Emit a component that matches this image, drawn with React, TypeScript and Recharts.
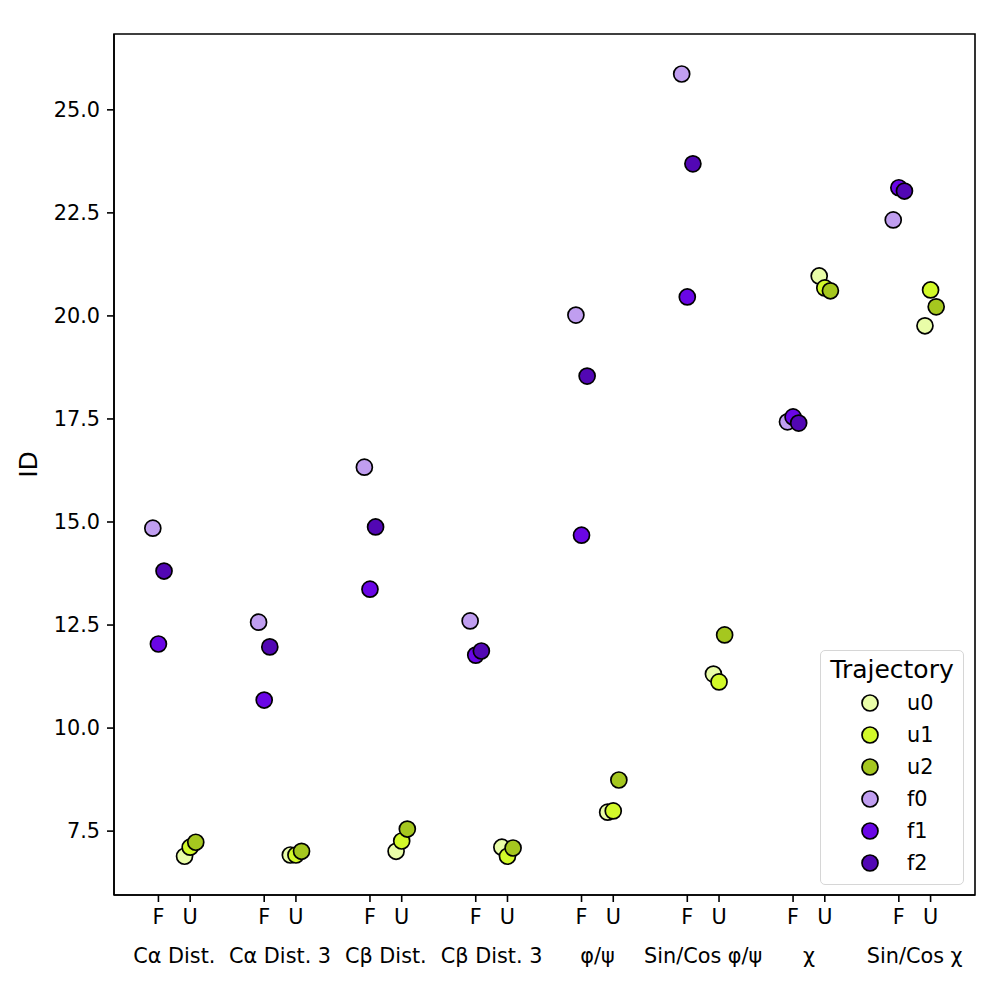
import React from 'react';
import {
    ScatterChart, Scatter, XAxis, YAxis, ReferenceArea
} from 'recharts';

// feature sets along the x axis
const CATEGORIES = ['Cα Dist.', 'Cα Dist. 3', 'Cβ Dist.', 'Cβ Dist. 3', 'φ/ψ', 'Sin/Cos φ/ψ', 'χ', 'Sin/Cos χ'];
const STATES = ['F', 'U'];

// ID values per trajectory, one per category
const u0 = [6.89, 6.92, 7.01, 7.11, 7.96, 11.31, 20.97, 19.76];
const u1 = [7.11, 6.92, 7.26, 6.89, 7.99, 11.12, 20.68, 20.63];
const u2 = [7.23, 7.01, 7.55, 7.09, 8.74, 12.26, 20.61, 20.22];
const f0 = [14.85, 12.57, 16.33, 12.60, 20.02, 25.87, 17.43, 22.33];
const f1 = [12.04, 10.68, 13.37, 11.77, 14.68, 20.46, 17.55, 23.11];
const f2 = [13.81, 11.97, 14.88, 11.87, 18.54, 23.69, 17.40, 23.03];

const Y_TICKS = [7.5, 10.0, 12.5, 15.0, 17.5, 20.0, 22.5, 25.0];

const SERIES = [
    { name: 'u0', values: u0, state: 1, dodge: -1, color: '#e9fda8' },
    { name: 'u1', values: u1, state: 1, dodge: 0, color: '#d2f92a' },
    { name: 'u2', values: u2, state: 1, dodge: 1, color: '#a5c71f' },
    { name: 'f0', values: f0, state: 0, dodge: -1, color: '#c09ef0' },
    { name: 'f1', values: f1, state: 0, dodge: 0, color: '#6a06e6' },
    { name: 'f2', values: f2, state: 0, dodge: 1, color: '#5207b4' },
];

const HALF = 0.15;
const DODGE = 0.053;
const X_DOMAIN: [number, number] = [-0.57, CATEGORIES.length - 1 + 0.57];
const Y_DOMAIN: [number, number] = [5.95, 26.84];

const stateTicks = CATEGORIES.flatMap((_, i) => [i - HALF, i + HALF]);
const catTicks = CATEGORIES.map((_, i) => i);

const FONT = '"DejaVu Sans", sans-serif';
const FS = 20.8;

const StateTick = (props: any) => {
    const { x, y, index } = props;
    return (
        <text x={x} y={y} dy="0.71em" textAnchor="middle" fontSize={FS} fontFamily={FONT} fill="#000">
            {STATES[index % 2]}
        </text>
    );
};

const CatTick = (props: any) => {
    const { x, y, payload } = props;
    return (
        <text x={x} y={y} dy="0.71em" textAnchor="middle" fontSize={FS} fontFamily={FONT} fill="#000">
            {CATEGORIES[Math.round(payload.value)]}
        </text>
    );
};

const Marker = (color: string) => (props: any) => (
    <circle cx={props.cx} cy={props.cy} r={8} fill={color} stroke="#000" strokeWidth={1.7} />
);

const LegendBox = () => (
    <div style={{
        position: 'absolute', left: 820, top: 650, width: 144, height: 235,
        border: '1.5px solid #d6d6d6', borderRadius: 5, background: 'rgba(255,255,255,0.8)',
        fontFamily: FONT, color: '#000', boxSizing: 'border-box', paddingTop: 4,
    }}>
        <div style={{ fontSize: 25, textAlign: 'center', lineHeight: '30px', marginBottom: 2 }}>Trajectory</div>
        {SERIES.map(s => (
            <div key={s.name} style={{ display: 'flex', alignItems: 'center', height: 32 }}>
                <svg width={20} height={20} style={{ marginLeft: 39, marginRight: 27 }}>
                    <circle cx={10} cy={10} r={8} fill={s.color} stroke="#000" strokeWidth={1.7} />
                </svg>
                <span style={{ fontSize: FS, lineHeight: '24px' }}>{s.name}</span>
            </div>
        ))}
    </div>
);

const App: React.FC = () => {
    const data = SERIES.map(s => ({
        ...s,
        points: s.values.map((v, i) => ({
            x: i + (s.state === 0 ? -HALF : HALF) + s.dodge * DODGE,
            y: v,
        })),
    }));

    return (
        <div style={{ position: 'absolute', left: 0, top: 0, width: 997, height: 997, background: '#fff' }}>
            <ScatterChart width={997} height={997} margin={{ top: 34, right: 22, left: 0, bottom: 0 }}>
                <XAxis
                    xAxisId="a" type="number" dataKey="x" domain={X_DOMAIN} ticks={stateTicks}
                    allowDataOverflow interval={0} height={35} tickSize={7} tickMargin={7.5}
                    stroke="#000" axisLine={{ stroke: '#000', strokeWidth: 1.6 }}
                    tickLine={{ stroke: '#000', strokeWidth: 1.6 }} tick={<StateTick />}
                />
                <XAxis
                    xAxisId="b" type="number" dataKey="x" domain={X_DOMAIN} ticks={catTicks}
                    allowDataOverflow interval={0} height={67} tickSize={0} tickMargin={18}
                    axisLine={false} tickLine={false} tick={<CatTick />}
                />
                <YAxis
                    type="number" dataKey="y" domain={Y_DOMAIN} ticks={Y_TICKS} allowDataOverflow
                    width={114} tickSize={7} tickMargin={7} stroke="#000"
                    axisLine={{ stroke: '#000', strokeWidth: 1.6 }}
                    tickLine={{ stroke: '#000', strokeWidth: 1.6 }}
                    tickFormatter={(v: number) => v.toFixed(1)}
                    tick={{ fontSize: FS, fontFamily: FONT, fill: '#000' }}
                    label={(p: any) => {
                        const vb = p.viewBox;
                        const cy = vb.y + vb.height / 2;
                        return (
                            <text x={28} y={cy} transform={`rotate(-90 28 ${cy})`} textAnchor="middle"
                                dominantBaseline="central" fontSize={25} fontFamily={FONT} fill="#000">ID</text>
                        );
                    }}
                />
                <ReferenceArea
                    xAxisId="a" x1={X_DOMAIN[0]} x2={X_DOMAIN[1]} y1={Y_DOMAIN[0]} y2={Y_DOMAIN[1]}
                    fill="none" stroke="#000" strokeWidth={1.6} fillOpacity={0}
                />
                {data.map(s => (
                    <Scatter
                        key={s.name} name={s.name} xAxisId="a" data={s.points} fill={s.color}
                        shape={Marker(s.color)} isAnimationActive={false}
                    />
                ))}
            </ScatterChart>
            <LegendBox />
        </div>
    );
};

export default App;
